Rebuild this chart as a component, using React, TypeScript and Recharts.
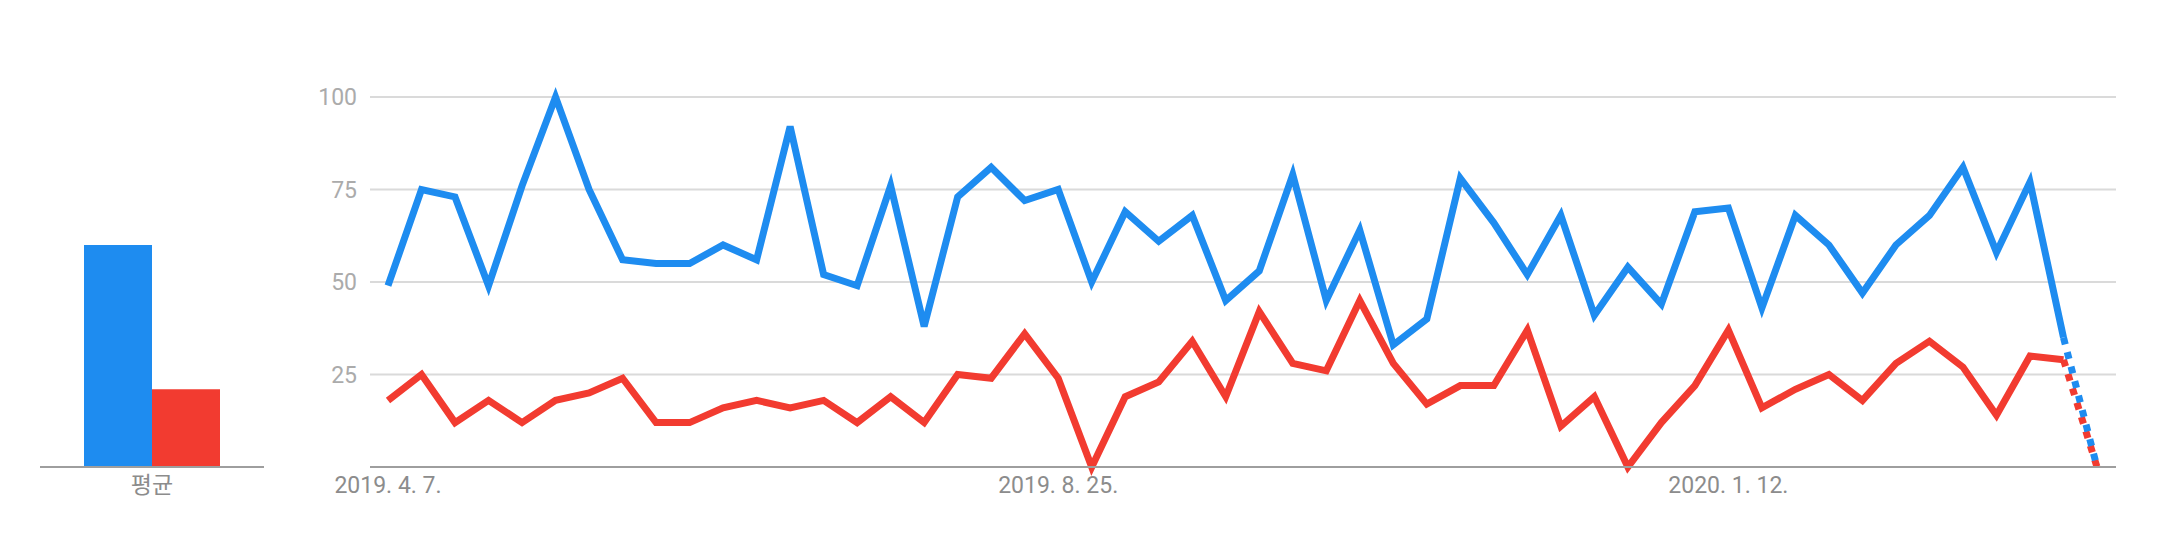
import { BarChart, Bar, LineChart, Line, XAxis, YAxis, CartesianGrid } from "recharts";

// weekly dates shown on the x axis (Korean Google Trends style)
const weeks = [
  "2019. 4. 7.", "2019. 4. 14.", "2019. 4. 21.", "2019. 4. 28.",
  "2019. 5. 5.", "2019. 5. 12.", "2019. 5. 19.", "2019. 5. 26.",
  "2019. 6. 2.", "2019. 6. 9.", "2019. 6. 16.", "2019. 6. 23.", "2019. 6. 30.",
  "2019. 7. 7.", "2019. 7. 14.", "2019. 7. 21.", "2019. 7. 28.",
  "2019. 8. 4.", "2019. 8. 11.", "2019. 8. 18.", "2019. 8. 25.",
  "2019. 9. 1.", "2019. 9. 8.", "2019. 9. 15.", "2019. 9. 22.", "2019. 9. 29.",
  "2019. 10. 6.", "2019. 10. 13.", "2019. 10. 20.", "2019. 10. 27.",
  "2019. 11. 3.", "2019. 11. 10.", "2019. 11. 17.", "2019. 11. 24.",
  "2019. 12. 1.", "2019. 12. 8.", "2019. 12. 15.", "2019. 12. 22.", "2019. 12. 29.",
  "2020. 1. 5.", "2020. 1. 12.", "2020. 1. 19.", "2020. 1. 26.",
  "2020. 2. 2.", "2020. 2. 9.", "2020. 2. 16.", "2020. 2. 23.",
  "2020. 3. 1.", "2020. 3. 8.", "2020. 3. 15.", "2020. 3. 22.", "2020. 3. 29.",
];

const blue = [
  49, 75, 73, 49, 76, 100, 75, 56, 55, 55, 60, 56, 92, 52, 49, 76, 38, 73, 81, 72,
  75, 50, 69, 61, 68, 45, 53, 79, 45, 64, 33, 40, 78, 66, 52, 68, 41, 54, 44, 69,
  70, 43, 68, 60, 47, 60, 68, 81, 58, 77, 35, 0,
];
const red = [
  18, 25, 12, 18, 12, 18, 20, 24, 12, 12, 16, 18, 16, 18, 12, 19, 12, 25, 24, 36,
  24, 0, 19, 23, 34, 19, 42, 28, 26, 45, 28, 17, 22, 22, 37, 11, 19, 0, 12, 22,
  37, 16, 21, 25, 18, 28, 34, 27, 14, 30, 29, 0,
];

const avgLabel = "평균";
const blueAvg = 60;
const redAvg = 21;

const yTicks = [0, 25, 50, 75, 100];

const BLUE = "#1e8cf0";
const RED = "#f23b30";
const lastSolid = 50; // the final week is partial, drawn dotted

const rows = weeks.map((date, i) => ({
  date,
  blue: i <= lastSolid ? blue[i] : null,
  red: i <= lastSolid ? red[i] : null,
  blueTail: i >= lastSolid ? blue[i] : null,
  redTail: i >= lastSolid ? red[i] : null,
}));

const avgRows = [{ name: avgLabel, blue: blueAvg, red: redAvg }];

const font = "Roboto, 'Noto Sans CJK KR', sans-serif";
const lw = 7;

export default function App() {
  return (
    <div style={{ position: "absolute", left: 0, top: 0, width: 2170, height: 548, background: "#fff" }}>
      <div style={{ position: "absolute", left: 0, top: 0 }}>
        <BarChart
          width={300}
          height={548}
          data={avgRows}
          margin={{ top: 97, right: 36, bottom: 21, left: 40 }}
          barGap={0}
        >
          <XAxis
            dataKey="name"
            height={60}
            tickLine={false}
            tickSize={0}
            tickMargin={10}
            axisLine={{ stroke: "#9e9e9e", strokeWidth: 2 }}
            tick={{ fill: "#8c8c8c", fontSize: 23, fontFamily: font }}
          />
          <YAxis hide domain={[0, 100]} />
          <Bar dataKey="blue" fill={BLUE} barSize={68} isAnimationActive={false} />
          <Bar dataKey="red" fill={RED} barSize={68} isAnimationActive={false} />
        </BarChart>
      </div>
      <div style={{ position: "absolute", left: 300, top: 0 }}>
        <LineChart
          width={1870}
          height={548}
          data={rows}
          margin={{ top: 97, right: 54, bottom: 21, left: 10 }}
        >
          <CartesianGrid vertical={false} stroke="#dadada" strokeWidth={2} />
          <XAxis
            dataKey="date"
            interval={19}
            height={60}
            tickLine={false}
            tickSize={0}
            tickMargin={10}
            padding={{ left: 18, right: 19 }}
            axisLine={{ stroke: "#9e9e9e", strokeWidth: 2 }}
            tick={{ fill: "#8c8c8c", fontSize: 23, fontFamily: font }}
          />
          <YAxis
            width={60}
            domain={[0, 100]}
            ticks={yTicks}
            axisLine={false}
            tickLine={false}
            tickSize={0}
            tickMargin={13}
            tickFormatter={(v: number) => (v === 0 ? "" : String(v))}
            tick={{ fill: "#ababab", fontSize: 23, fontFamily: font }}
          />
          <Line type="linear" dataKey="blue" stroke={BLUE} strokeWidth={lw} strokeLinejoin="miter" dot={false} activeDot={false} isAnimationActive={false} />
          <Line type="linear" dataKey="red" stroke={RED} strokeWidth={lw} strokeLinejoin="miter" dot={false} activeDot={false} isAnimationActive={false} />
          <Line type="linear" dataKey="redTail" stroke={RED} strokeWidth={lw} strokeDasharray="7 8" dot={false} activeDot={false} isAnimationActive={false} />
          <Line type="linear" dataKey="blueTail" stroke={BLUE} strokeWidth={lw} strokeDasharray="7 8" dot={false} activeDot={false} isAnimationActive={false} />
        </LineChart>
      </div>
    </div>
  );
}
